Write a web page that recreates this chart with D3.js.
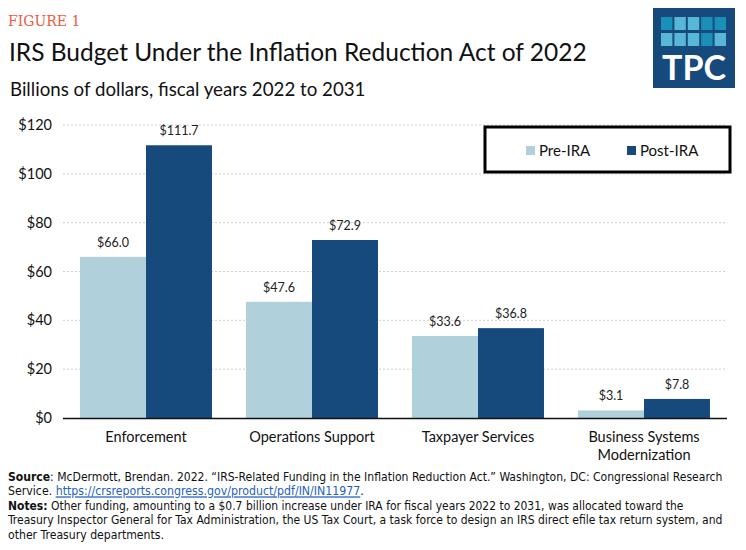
<!DOCTYPE html>
<meta charset="utf-8" />
<script src="https://d3js.org/d3.v7.min.js"></script>
<style>
  body { margin: 0; background: #fff; }
  svg { display: block; }
</style>
<body>
<div id="chart"></div>
<script>
  // data
  var categories = [["Enforcement"], ["Operations Support"], ["Taxpayer Services"], ["Business Systems", "Modernization"]];
  var seriesNames = ["Pre-IRA", "Post-IRA"];
  var preIRA = [66.0, 47.6, 33.6, 3.1];
  var postIRA = [111.7, 72.9, 36.8, 7.8];
  var yTicks = [0, 20, 40, 60, 80, 100, 120];

  var colors = ["#b0d0dc", "#174a7c"];
  var W = 746, H = 550;
  var margin = { left: 63, right: 19, top: 125, bottom: 132 };

  var svg = d3.select("#chart").append("svg")
    .attr("width", W).attr("height", H)
    .style("font-family", "Lato, 'Open Sans', sans-serif");

  // header
  svg.append("text").attr("x", 8).attr("y", 26)
    .attr("font-family", "'DejaVu Serif', 'Liberation Serif', serif")
    .attr("font-size", 14).attr("fill", "#ec5a3f")
    .text("FIGURE 1");
  svg.append("text").attr("x", 9).attr("y", 61)
    .attr("font-size", 24.5).attr("fill", "#111")
    .text("IRS Budget Under the Inflation Reduction Act of 2022");
  svg.append("text").attr("x", 10).attr("y", 96)
    .attr("font-size", 18.7).attr("fill", "#111")
    .text("Billions of dollars, fiscal years 2022 to 2031");

  // TPC logo
  var logo = svg.append("g").attr("transform", "translate(653,8)");
  logo.append("rect").attr("width", 82).attr("height", 80).attr("fill", "#174a7c");
  var tiles = [[1, 0, 0, 1, 1], [0, 0, 0, 1, 0]];
  tiles.forEach(function (row, r) {
    row.forEach(function (dark, c) {
      logo.append("rect")
        .attr("x", 8 + c * 13.4).attr("y", 9 + r * 16)
        .attr("width", 11.4).attr("height", 13)
        .attr("fill", dark ? "#1a8fb8" : "#58b7d6");
    });
  });
  logo.append("text").attr("x", 41).attr("y", 72)
    .attr("text-anchor", "middle").attr("font-size", 34).attr("font-weight", 700)
    .attr("fill", "#fff").attr("font-family", "Lato, sans-serif")
    .text("TPC");

  var innerW = W - margin.left - margin.right;
  var innerH = H - margin.top - margin.bottom;
  var g = svg.append("g").attr("transform", "translate(" + margin.left + "," + margin.top + ")");

  var x0 = d3.scaleBand().domain(d3.range(categories.length)).range([0, innerW]).paddingInner(0.205).paddingOuter(0.1025);
  var x1 = d3.scaleBand().domain(seriesNames).range([0, x0.bandwidth()]);
  var y = d3.scaleLinear().domain([0, 120]).range([innerH, 0]);

  // gridlines
  g.selectAll("line.grid").data(yTicks.filter(function (d) { return d > 0; }))
    .enter().append("line")
    .attr("x1", 0).attr("x2", innerW)
    .attr("y1", function (d) { return y(d); }).attr("y2", function (d) { return y(d); })
    .attr("stroke", "#cfcfcf").attr("stroke-width", 1).attr("stroke-dasharray", "2,2");

  // y axis labels
  var yAxis = d3.axisLeft(y).tickValues(yTicks).tickSize(0).tickPadding(11)
    .tickFormat(function (d) { return "$" + d; });
  var ya = g.append("g").call(yAxis);
  ya.select(".domain").remove();
  ya.selectAll("text").attr("font-size", 14.5).attr("fill", "#111").attr("font-family", "Lato, sans-serif");

  // bars
  var data = categories.map(function (c, i) { return { i: i, vals: [preIRA[i], postIRA[i]] }; });
  var grp = g.selectAll("g.cat").data(data).enter().append("g")
    .attr("transform", function (d) { return "translate(" + x0(d.i) + ",0)"; });
  grp.selectAll("rect").data(function (d) { return d.vals.map(function (v, k) { return { k: k, v: v }; }); })
    .enter().append("rect")
    .attr("x", function (d) { return x1(seriesNames[d.k]); })
    .attr("width", x1.bandwidth())
    .attr("y", function (d) { return y(d.v); })
    .attr("height", function (d) { return innerH - y(d.v); })
    .attr("fill", function (d) { return colors[d.k]; });
  grp.selectAll("text.val").data(function (d) { return d.vals.map(function (v, k) { return { k: k, v: v }; }); })
    .enter().append("text")
    .attr("x", function (d) { return x1(seriesNames[d.k]) + x1.bandwidth() / 2; })
    .attr("y", function (d) { return y(d.v) - 10; })
    .attr("text-anchor", "middle").attr("font-size", 12.5).attr("fill", "#222")
    .text(function (d) { return "$" + d.v.toFixed(1); });

  // x axis
  g.append("line").attr("x1", 0).attr("x2", innerW).attr("y1", innerH + 0.5).attr("y2", innerH + 0.5)
    .attr("stroke", "#111").attr("stroke-width", 1.5);
  var xl = g.selectAll("text.cat").data(categories).enter().append("text")
    .attr("text-anchor", "middle").attr("font-size", 14.5).attr("fill", "#111")
    .attr("transform", function (d, i) { return "translate(" + (x0(i) + x0.bandwidth() / 2) + "," + (innerH + 24) + ")"; });
  xl.selectAll("tspan").data(function (d) { return d; }).enter().append("tspan")
    .attr("x", 0).attr("dy", function (d, j) { return j ? 18 : 0; })
    .text(function (d) { return d; });

  // legend
  var leg = svg.append("g").attr("transform", "translate(485,127)");
  leg.append("rect").attr("width", 245).attr("height", 45)
    .attr("fill", "#fff").attr("stroke", "#000").attr("stroke-width", 3);
  var legX = [41, 142];
  seriesNames.forEach(function (s, k) {
    leg.append("rect").attr("x", legX[k]).attr("y", 19).attr("width", 9).attr("height", 9).attr("fill", colors[k]);
    leg.append("text").attr("x", legX[k] + 13).attr("y", 29).attr("font-size", 15).attr("fill", "#111").text(s);
  });

  // footer
  var foot = svg.append("g")
    .attr("font-family", "'Liberation Sans Narrow', 'Arial Narrow', 'DejaVu Sans Condensed', sans-serif")
    .attr("font-size", 12.3).attr("fill", "#111");
  var lines = [
    [["Source", 1], [": McDermott, Brendan. 2022. \u201cIRS-Related Funding in the Inflation Reduction Act.\u201d Washington, DC: Congressional Research", 0]],
    [["Service. ", 0], ["https://crsreports.congress.gov/product/pdf/IN/IN11977", 2], [".", 0]],
    [["Notes:", 1], [" Other funding, amounting to a $0.7 billion increase under IRA for fiscal years 2022 to 2031, was allocated toward the", 0]],
    [["Treasury Inspector General for Tax Administration, the US Tax Court, a task force to design an IRS direct efile tax return system, and", 0]],
    [["other Treasury departments.", 0]]
  ];
  // widths of each line in the reference, used to fit the substitute font
  var lineWidths = [715, 356, 676, 715, 156];
  lines.forEach(function (ln, li) {
    var t = foot.append("text").attr("x", 8).attr("y", 481 + li * 14.4);
    ln.forEach(function (part) {
      var s = t.append("tspan").text(part[0]);
      if (part[1] === 1) s.attr("font-weight", 700);
      if (part[1] === 2) s.attr("fill", "#1f5fbf").attr("text-decoration", "underline");
    });
    var w = t.node().getComputedTextLength();
    var k = Math.min(1, lineWidths[li] / w);
    t.attr("transform", "translate(8,0) scale(" + k + ",1) translate(-8,0)");
  });
</script>
</body>
